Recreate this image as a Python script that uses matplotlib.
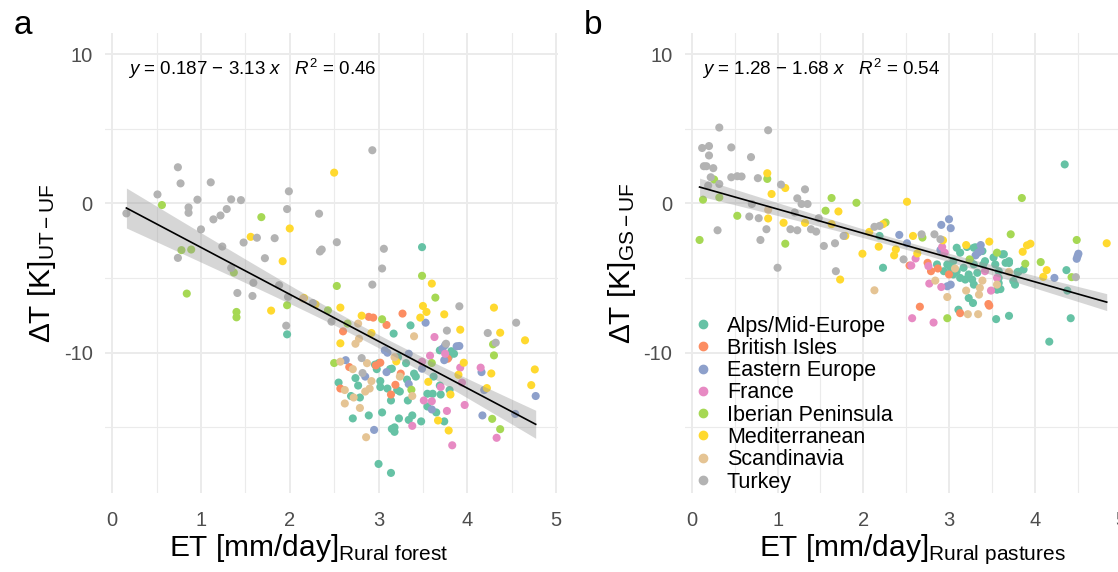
import numpy as np
import matplotlib
matplotlib.use("Agg")
import matplotlib.pyplot as plt
from matplotlib.lines import Line2D

plt.rcParams['font.family'] = ['Liberation Sans', 'DejaVu Sans']
plt.rcParams['mathtext.fontset'] = 'custom'
plt.rcParams['mathtext.rm'] = 'Liberation Sans'
plt.rcParams['mathtext.it'] = 'Liberation Sans:italic'

regions = ["Alps/Mid-Europe", "British Isles", "Eastern Europe", "France",
           "Iberian Peninsula", "Mediterranean", "Scandinavia", "Turkey"]
colors = ["#66C2A5", "#FC8D62", "#8DA0CB", "#E78AC3",
          "#A6D854", "#FFD92F", "#E5C494", "#B3B3B3"]

# ---- panel a: rural forest ET vs dT (UT-UF) ----
a_alps_x = [3.49, 1.97, 3.36, 3.17, 2.55, 2.71, 2.77, 2.74, 2.69, 2.79, 2.89, 2.96, 2.98, 3.00, 3.02, 3.02,
            3.04, 3.10, 3.14, 3.15, 3.18, 3.18, 3.00, 3.14, 3.24, 3.23, 3.31, 3.33, 3.34, 3.38, 3.40, 3.42,
            3.48, 3.55, 3.55, 3.61, 3.62, 3.65, 3.69, 3.70, 3.69, 3.74, 3.82, 3.85, 3.79, 3.22, 3.15, 3.80,
            3.21, 3.32, 3.13]
a_alps_y = [-2.93, -8.77, -8.17, -8.72, -12.0, -14.4, -12.2, -11.7, -12.9, -13.0, -14.2, -10.8, -11.1, -10.7,
            -11.9, -12.3, -14.0, -12.4, -13.2, -15.1, -15.0, -15.3, -17.45, -18.05, -12.6, -14.4, -10.7, -13.2,
            -14.5, -14.2, -11.4, -11.6, -14.6, -12.75, -13.6, -12.75, -11.6, -14.0, -12.2, -12.8, -9.84, -14.6,
            -9.9, -10.07, -10.3, -10.3, -11.07, -12.5, -12.5, -11.8, -11.1]
a_brit_x = [2.60, 2.67, 2.57, 2.89, 2.94, 3.09, 3.27, 2.97, 3.02, 3.19, 3.14, 3.25, 3.78]
a_brit_y = [-8.57, -10.96, -12.4, -7.6, -7.65, -8.14, -7.38, -10.85, -10.67, -12.15, -12.8, -11.4, -10.4]
a_east_x = [2.63, 2.85, 3.09, 3.07, 3.10, 3.34, 3.53, 3.49, 3.60, 2.95, 3.72, 3.75, 3.88, 3.91, 3.74,
            4.16, 4.17, 4.19, 4.77, 4.54, 3.34]
a_east_y = [-10.5, -11.6, -11.3, -9.84, -10.0, -12.1, -7.99, -11.07, -13.8, -15.17, -9.73, -9.5, -9.57,
            -9.55, -10.5, -11.3, -14.2, -12.5, -12.9, -14.1, -10.07]
a_fra_x = [3.63, 3.58, 3.75, 3.49, 3.51, 3.60, 3.38, 3.70, 3.77, 3.83, 3.92, 3.94, 3.97, 4.15, 4.33]
a_fra_y = [-8.95, -10.2, -10.07, -10.6, -13.2, -13.25, -14.9, -12.3, -13.9, -16.2, -11.0, -12.0, -13.5,
           -11.0, -15.7]
a_ibe_x = [0.56, 0.78, 0.89, 0.84, 1.37, 1.40, 1.40, 1.68, 1.97, 2.43, 2.53, 2.50, 2.65, 3.04, 3.49,
           3.64, 3.60, 3.37, 4.29, 4.30, 4.28, 4.37]
a_ibe_y = [-0.11, -3.13, -3.09, -6.04, -4.63, -7.27, -7.63, -0.92, -6.82, -7.16, -5.53, -10.69, -8.05,
           -7.76, -4.85, -6.31, -10.69, -12.48, -9.44, -10.18, -14.43, -15.12]
a_med_x = [2.50, 2.00, 1.56, 1.92, 1.79, 2.16, 2.29, 2.57, 2.57, 2.81, 2.92, 3.20, 3.50, 3.54, 3.47, 3.60,
           3.74, 3.92, 3.96, 3.90, 3.56, 3.81, 3.67, 3.79, 4.30, 4.37, 4.27, 4.22, 4.65, 4.76, 4.72]
a_med_y = [2.06, -1.68, -2.24, -3.87, -7.18, -6.33, -6.76, -6.98, -9.37, -7.52, -8.68, -10.58, -6.87,
           -7.27, -7.65, -5.37, -7.43, -8.46, -10.67, -11.48, -11.95, -12.80, -14.54, -15.21, -6.98, -8.66,
           -11.39, -12.37, -9.17, -11.12, -12.17]
a_sca_x = [3.40, 2.77, 2.78, 2.74, 2.57, 2.71, 2.87, 2.92, 2.90, 2.85, 2.62, 2.72, 2.62, 2.79, 2.86,
           3.18, 3.24, 3.38, 2.15]
a_sca_y = [-8.9, -8.05, -9.06, -9.4, -10.6, -11.1, -10.7, -11.9, -12.4, -12.6, -12.5, -13.0, -13.4, -13.7,
           -15.66, -10.3, -11.6, -12.9, -6.38]
a_tur_x = [0.16, 0.51, 0.74, 0.77, 0.86, 0.86, 0.96, 1.00, 1.11, 1.14, 1.22, 1.29, 1.34, 1.45, 1.24, 0.74,
           1.48, 1.63, 1.83, 1.72, 1.34, 1.59, 1.41, 1.58, 1.88, 1.97, 1.99, 2.33, 2.34, 2.36, 2.53, 1.96,
           1.98, 2.26, 2.47, 2.93, 3.06, 3.04, 2.93, 2.81, 2.82, 3.91, 3.77, 3.76, 4.23, 4.32, 4.55]
a_tur_y = [-0.67, 0.60, 2.42, 1.34, -0.27, -0.63, 0.25, -1.74, 1.41, -1.07, -0.81, -0.38, 0.27, 0.22,
           -2.89, -3.65, -2.62, -2.30, -2.33, -3.67, -4.32, -5.32, -6.0, -6.2, -5.48, -0.38, 0.81, -0.69,
           -3.22, -3.09, -2.6, -8.19, -6.26, -6.67, -7.92, 3.56, -3.04, -4.36, -5.44, -10.36, -11.36, -6.89,
           -8.52, -9.40, -8.68, -9.33, -7.99]

# ---- panel b: rural pastures ET vs dT (GS-UF) ----
b_alps_x = [4.35, 2.19, 2.23, 3.11, 3.28, 3.23, 3.55, 3.70, 4.17, 4.42, 4.37, 4.38, 3.77, 3.09, 3.13, 3.21,
            3.29, 3.39, 3.42, 3.40, 3.05, 2.98, 3.02, 3.09, 3.13, 3.19, 3.17, 3.23, 3.27, 3.29, 3.33, 3.54,
            3.58, 3.62, 3.66, 3.70, 3.58, 3.56, 3.81, 3.87, 3.05, 3.29, 2.86, 2.94, 3.31, 3.25, 3.52, 3.64,
            3.70, 3.75, 3.80, 3.58, 3.60]
b_alps_y = [2.61, -2.18, -4.31, -7.12, -6.67, -6.34, -7.75, -7.53, -9.26, -7.69, -4.47, -5.84, -5.44, -2.97,
            -3.30, -2.92, -2.97, -3.19, -3.87, -4.09, -3.87, -4.09, -4.31, -4.54, -4.99, -5.10, -4.31, -4.76,
            -5.10, -5.44, -4.65, -4.09, -4.54, -3.42, -3.98, -3.87, -4.99, -5.78, -4.58, -4.43, -4.76, -4.09,
            -4.09, -4.54, -2.94, -3.84, -3.62, -3.4, -3.99, -5.2, -4.6, -5.34, -5.74]
b_brit_x = [2.54, 2.66, 2.75, 2.79, 2.87, 3.00, 3.13, 3.46, 3.47]
b_brit_y = [-4.16, -6.92, -3.98, -4.54, -4.36, -4.76, -7.35, -6.74, -6.85]
b_east_x = [2.91, 3.00, 3.02, 2.42, 2.51, 2.90, 3.37, 3.37, 3.31, 3.34, 3.02, 2.98, 4.23, 4.50, 4.51, 4.49]
b_east_y = [-1.44, -1.06, -1.66, -2.11, -2.67, -3.12, -2.79, -3.19, -3.48, -3.30, -5.44, -5.55, -4.99,
            -3.53, -3.37, -3.71]
b_fra_x = [2.56, 2.61, 2.76, 2.77, 2.91, 2.92, 2.95, 2.82, 2.57, 3.49, 3.42, 3.56]
b_fra_y = [-4.16, -3.69, -4.20, -5.37, -5.60, -2.92, -3.30, -7.98, -7.69, -5.84, -4.54, -4.99]
b_ibe_x = [0.09, 0.13, 0.26, 0.32, 0.88, 0.53, 1.09, 1.56, 1.63, 1.92, 2.26, 2.69, 2.98, 3.24, 3.56,
           3.72, 3.85, 3.89, 4.07, 4.43, 4.49]
b_ibe_y = [-2.45, 0.25, 1.60, 0.40, 1.64, -0.83, -2.70, -0.49, 0.36, 0.04, -1.28, -2.29, -7.69, -3.75,
           -3.30, -2.07, 0.36, -4.04, -3.93, -4.94, -2.45]
b_med_x = [0.88, 0.93, 1.09, 0.89, 1.07, 1.32, 1.63, 1.71, 1.79, 1.73, 1.99, 2.07, 2.18, 2.36, 2.38, 2.51,
           2.58, 2.63, 2.93, 3.20, 3.47, 3.86, 3.91, 3.95, 4.14, 4.10, 4.84, 2.23]
b_med_y = [2.02, 0.63, 1.03, -1.01, -1.30, -1.30, -1.39, -0.54, -2.18, -5.10, -3.37, -1.91, -2.90, -3.48,
           -3.08, 0.11, -2.18, -3.35, -2.47, -2.79, -2.56, -3.24, -2.81, -2.70, -4.47, -4.92, -2.67, -1.39]
b_sca_x = [2.13, 2.84, 2.98, 3.07, 3.20, 3.22, 3.34, 3.35, 3.36, 3.39, 3.56, 3.70, 0.89]
b_sca_y = [-5.82, -5.17, -6.27, -4.36, -5.84, -7.42, -7.42, -6.11, -5.66, -5.17, -5.44, -4.58, -0.43]
b_tur_x = [0.32, 0.89, 0.12, 0.20, 0.20, 0.46, 0.69, 0.14, 0.17, 0.25, 0.22, 0.32, 0.46, 0.53, 0.58, 0.77,
           0.19, 1.04, 1.32, 1.23, 1.28, 1.35, 0.70, 0.67, 0.78, 1.20, 1.15, 1.23, 0.87, 1.39, 1.45, 0.30,
           0.80, 1.00, 1.54, 1.67, 1.48, 1.77, 1.68, 2.13, 2.19, 2.47, 2.68, 2.83, 2.90, 4.48]
b_tur_y = [5.08, 4.90, 3.71, 3.84, 3.21, 3.75, 3.10, 2.49, 2.49, 2.36, 1.75, 1.30, 1.75, 1.82, 1.80, 1.69,
           1.19, 1.26, 0.94, 0.34, -0.04, -0.04, -0.04, -0.88, -0.99, -0.61, -1.73, -1.80, -1.73, -1.73,
           -1.89, -1.80, -2.45, -4.31, -2.85, -2.67, -0.99, -2.18, -4.54, -1.57, -1.51, -3.75, -2.07, -2.07,
           -2.40, -4.94]

eq_a = r"$y$ = 0.187 $-$ 3.13 $x$   $R^2$ = 0.46"
eq_b = r"$y$ = 1.28 $-$ 1.68 $x$   $R^2$ = 0.54"

panel_a = [(a_alps_x, a_alps_y), (a_brit_x, a_brit_y), (a_east_x, a_east_y), (a_fra_x, a_fra_y),
           (a_ibe_x, a_ibe_y), (a_med_x, a_med_y), (a_sca_x, a_sca_y), (a_tur_x, a_tur_y)]
panel_b = [(b_alps_x, b_alps_y), (b_brit_x, b_brit_y), (b_east_x, b_east_y), (b_fra_x, b_fra_y),
           (b_ibe_x, b_ibe_y), (b_med_x, b_med_y), (b_sca_x, b_sca_y), (b_tur_x, b_tur_y)]


def draw_panel(ax, groups, eq, xlab, ylab, eq_x, xlab_pos):
    ax.set_xlim(-0.08, 5.02)
    ax.set_ylim(-19.4, 11.4)
    # ggplot-like minimal grid
    for v in np.arange(0, 5.01, 0.5):
        major = abs(v - round(v)) < 1e-6
        ax.axvline(v, color="#EBEBEB", lw=1.4 if major else 0.8, zorder=0)
    for v in [-15, -10, -5, 0, 5, 10]:
        major = v % 10 == 0
        ax.axhline(v, color="#EBEBEB", lw=1.4 if major else 0.8, zorder=0)

    allx, ally = [], []
    for (gx, gy), c in zip(groups, colors):
        ax.scatter(gx, gy, s=34, color=c, edgecolors="none", zorder=2)
        allx += gx
        ally += gy

    # linear fit with 95% confidence band
    x = np.array(allx)
    y = np.array(ally)
    n = len(x)
    slope, icpt = np.polyfit(x, y, 1)
    resid = y - (icpt + slope * x)
    s = np.sqrt(np.sum(resid ** 2) / (n - 2))
    xs = np.linspace(x.min(), x.max(), 100)
    ys = icpt + slope * xs
    se = s * np.sqrt(1 / n + (xs - x.mean()) ** 2 / np.sum((x - x.mean()) ** 2))
    ax.fill_between(xs, ys - 1.97 * se, ys + 1.97 * se, color="#999999", alpha=0.4, lw=0, zorder=3)
    ax.plot(xs, ys, color="black", lw=1.2, zorder=4)

    ax.text(eq_x, 9.0, eq, fontsize=13.5, va="center", ha="left")

    ax.set_xticks([0, 1, 2, 3, 4, 5])
    ax.set_yticks([-10, 0, 10])
    ax.set_yticklabels(["-10", "0", "10"])
    ax.tick_params(length=0, labelsize=14.5, labelcolor="#4D4D4D", pad=9)
    ax.tick_params(axis="x", pad=13)
    for sp in ax.spines.values():
        sp.set_visible(False)
    ax.set_xlabel(xlab, fontsize=21.5)
    ax.xaxis.set_label_coords(xlab_pos, -0.085)
    ax.set_ylabel(ylab, fontsize=21.5, labelpad=4)


fig = plt.figure(figsize=(11.18, 5.72), dpi=100)
ax1 = fig.add_axes([0.094, 0.138, 0.405, 0.804])
ax2 = fig.add_axes([0.6127, 0.138, 0.391, 0.804])

draw_panel(ax1, panel_a, eq_a, r"ET [mm/day]$_{\mathrm{Rural\ forest}}$",
           r"$\Delta$T [K]$_{\mathrm{UT-UF}}$", 0.18, 0.45)
draw_panel(ax2, panel_b, eq_b, r"ET [mm/day]$_{\mathrm{Rural\ pastures}}$",
           r"$\Delta$T [K]$_{\mathrm{GS-UF}}$", 0.12, 0.52)

handles = [Line2D([], [], marker="o", ls="none", color=c, markersize=6) for c in colors]
ax2.legend(handles, regions, loc="upper left", bbox_to_anchor=(0.027, 0.386), frameon=False,
           fontsize=15.5, handlelength=0.6, handletextpad=0.8, labelspacing=0.06,
           borderpad=0, borderaxespad=0)

fig.text(0.012, 0.955, "a", fontsize=24, va="center", ha="left")
fig.text(0.522, 0.955, "b", fontsize=24, va="center", ha="left")

fig.savefig("out.png", dpi=100)
